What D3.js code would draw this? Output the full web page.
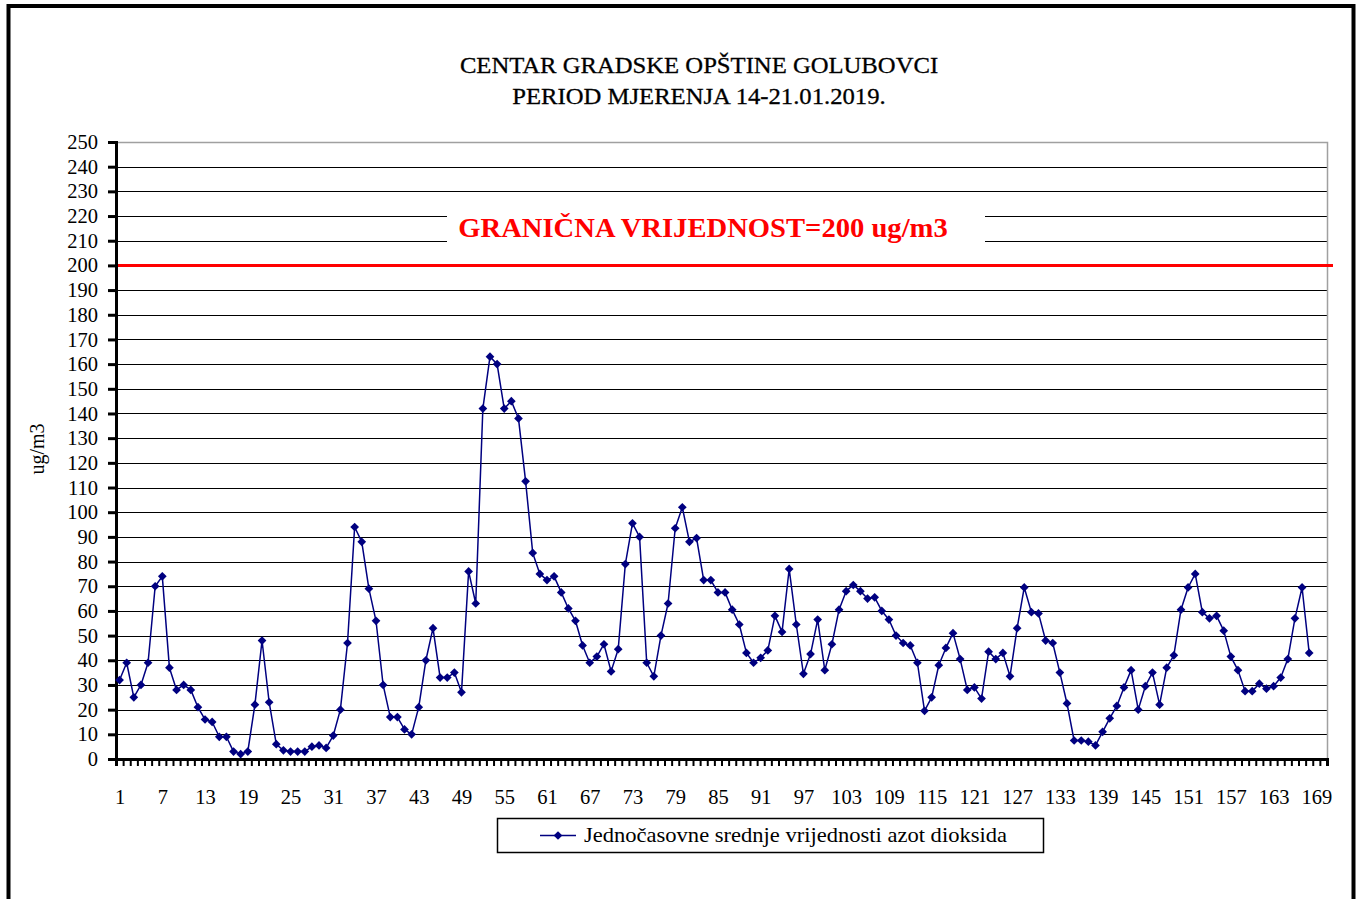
<!DOCTYPE html>
<html>
<head>
<meta charset="utf-8">
<script src="https://cdn.jsdelivr.net/npm/d3@7"></script>
<style>
  html, body { margin: 0; padding: 0; background: #fff; }
  svg { display: block; }
  text { font-family: "Liberation Serif", "Times New Roman", serif; }
</style>
</head>
<body>
<svg id="chart" width="1361" height="899"></svg>
<script>
// ---------- data ----------
const titleLines = ["CENTAR GRADSKE OPŠTINE GOLUBOVCI", "PERIOD MJERENJA 14-21.01.2019."];
const yAxisTitle = "ug/m3";
const limitLabel = "GRANIČNA VRIJEDNOST=200 ug/m3";
const limitValue = 200;
const seriesName = "Jednočasovne srednje vrijednosti azot dioksida";
const categoryCount = 170;
const xTickLabels = [1,7,13,19,25,31,37,43,49,55,61,67,73,79,85,91,97,103,109,115,121,127,133,139,145,151,157,163,169];
const yTickValues = [0,10,20,30,40,50,60,70,80,90,100,110,120,130,140,150,160,170,180,190,200,210,220,230,240,250];
const no2 = [
  32,39,25,30,39,70,74,37,28,30,
  28,21,16,15,9,9,3,2,3,22,
  48,23,6,3.5,3,3,3,5,5.5,4.5,
  9.5,20,47,94,88,69,56,30,17,17,
  12,10,21,40,53,33,33,35,27,76,
  63,142,163,160,142,145,138,112.5,83.5,75,
  72.5,74,67.5,61,56,46,39,41.5,46.5,35.5,
  44.5,79,95.5,90,39,33.5,50,63,93.5,102,
  88,89.5,72.5,72.5,67.5,67.5,60.5,54.5,43,39,
  41,44,58,51.5,77,54.5,34.5,42.5,56.5,36,
  46.5,60.5,68,70.5,68,65,65.5,60,56.5,50,
  47,46,39,19.5,25,38,45,51,40.5,28,
  29,24.5,43.5,40.5,43,33.5,53,69.5,59.5,59,
  48,47,35,22.5,7.5,7.5,7,5.5,11,16.5,
  21.5,29,36,20,29.5,35,22,37,42,60.5,
  69.5,75,59.5,57,58,52,41.5,36,27.5,27.5,
  30.5,28.5,29.5,33,40.5,57,69.5,43
];

// ---------- layout ----------
const svg = d3.select("#chart");
const plot = { left: 116, right: 1327, top: 142, bottom: 759 };
const navy = "#000080";

const x = d3.scaleLinear().domain([0.5, categoryCount + 0.5]).range([plot.left, plot.right]);
const y = d3.scaleLinear().domain([0, 250]).range([plot.bottom, plot.top]);

svg.append("rect").attr("x", 0).attr("y", 0).attr("width", 1361).attr("height", 899).attr("fill", "#fff");

// outer frame
svg.append("rect").attr("x", 8.5).attr("y", 6).attr("width", 1345).attr("height", 920)
  .attr("fill", "none").attr("stroke", "#000").attr("stroke-width", 4);

// title
svg.append("g").selectAll("text").data(titleLines).join("text")
  .attr("transform", (d, i) => `translate(699,${73 + i * 31}) scale(1.05,1)`)
  .attr("text-anchor", "middle").attr("font-size", 23.5).attr("fill", "#000")
  .attr("stroke", "#000").attr("stroke-width", 0.3)
  .text(d => d);

// gridlines
svg.append("g").selectAll("line").data(yTickValues.filter(v => v > 0 && v < 250)).join("line")
  .attr("x1", plot.left).attr("x2", plot.right)
  .attr("y1", d => Math.round(y(d)) + 0.5).attr("y2", d => Math.round(y(d)) + 0.5)
  .attr("stroke", "#000").attr("stroke-width", 1);

// plot-area border (top/right)
svg.append("path")
  .attr("d", `M${plot.left},${y(250) + 0.5}H${plot.right + 0.5}V${plot.bottom}`)
  .attr("fill", "none").attr("stroke", "#a0a0a0").attr("stroke-width", 1.5);

// limit label with white background
svg.append("rect").attr("x", 447).attr("y", y(225)).attr("width", 538).attr("height", y(205) - y(225))
  .attr("fill", "#fff");
svg.append("text").attr("transform", "translate(703,237) scale(1.06,1)")
  .attr("text-anchor", "middle").attr("font-size", 27).attr("font-weight", "bold")
  .attr("fill", "#ff0000").text(limitLabel);

// limit line
svg.append("line").attr("x1", plot.left).attr("x2", 1333)
  .attr("y1", y(limitValue)).attr("y2", y(limitValue))
  .attr("stroke", "#ff0000").attr("stroke-width", 3);

// y axis
const yAxis = d3.axisLeft(y).tickValues(yTickValues).tickSize(8).tickPadding(10).tickFormat(d3.format("d"));
const gy = svg.append("g").attr("transform", `translate(${plot.left},0)`).call(yAxis);
gy.select(".domain").attr("stroke", "#000").attr("stroke-width", 3);
gy.selectAll(".tick line").attr("stroke", "#000").attr("stroke-width", 3);
gy.selectAll(".tick text").attr("font-family", "Liberation Serif").attr("font-size", 20.5).attr("fill", "#000");

// x axis: tick marks between categories
const boundaries = d3.range(0.5, categoryCount + 1, 1);
const xAxisTicks = d3.axisBottom(x).tickValues(boundaries).tickSize(7).tickFormat("");
const gx = svg.append("g").attr("transform", `translate(0,${plot.bottom})`).call(xAxisTicks);
gx.select(".domain").attr("stroke", "#000").attr("stroke-width", 3);
gx.selectAll(".tick line").attr("stroke", "#000").attr("stroke-width", 2);

const xAxisLabels = d3.axisBottom(x).tickValues(xTickLabels).tickSize(0).tickPadding(30).tickFormat(d3.format("d"));
const gxl = svg.append("g").attr("transform", `translate(0,${plot.bottom})`).call(xAxisLabels);
gxl.select(".domain").remove();
gxl.selectAll(".tick text").attr("font-family", "Liberation Serif").attr("font-size", 20.5).attr("fill", "#000");

// y axis title
svg.append("text").attr("transform", `translate(44,449) rotate(-90)`)
  .attr("text-anchor", "middle").attr("font-size", 20).attr("fill", "#000").text(yAxisTitle);

// series line
const points = no2.map((v, i) => ({ hour: i + 1, value: v }));
const line = d3.line().x(d => x(d.hour)).y(d => y(d.value));
svg.append("path").datum(points).attr("d", line)
  .attr("fill", "none").attr("stroke", navy).attr("stroke-width", 1.5).attr("stroke-linejoin", "round");

// markers (diamonds)
const diamond = d3.symbol().type(d3.symbolSquare).size(38);
svg.append("g").selectAll("path").data(points).join("path")
  .attr("d", diamond)
  .attr("transform", d => `translate(${x(d.hour)},${y(d.value)}) rotate(45)`)
  .attr("fill", navy);

// legend
const lg = svg.append("g");
lg.append("rect").attr("x", 497.5).attr("y", 818.5).attr("width", 546).attr("height", 34)
  .attr("fill", "#fff").attr("stroke", "#000").attr("stroke-width", 1.5);
lg.append("line").attr("x1", 540).attr("x2", 576).attr("y1", 835.5).attr("y2", 835.5)
  .attr("stroke", navy).attr("stroke-width", 1.5);
lg.append("path").attr("d", diamond).attr("transform", "translate(558,835.5) rotate(45)").attr("fill", navy);
lg.append("text").attr("transform", "translate(584,842) scale(1.1,1)")
  .attr("font-size", 20.5).attr("fill", "#000").text(seriesName);
</script>
</body>
</html>
